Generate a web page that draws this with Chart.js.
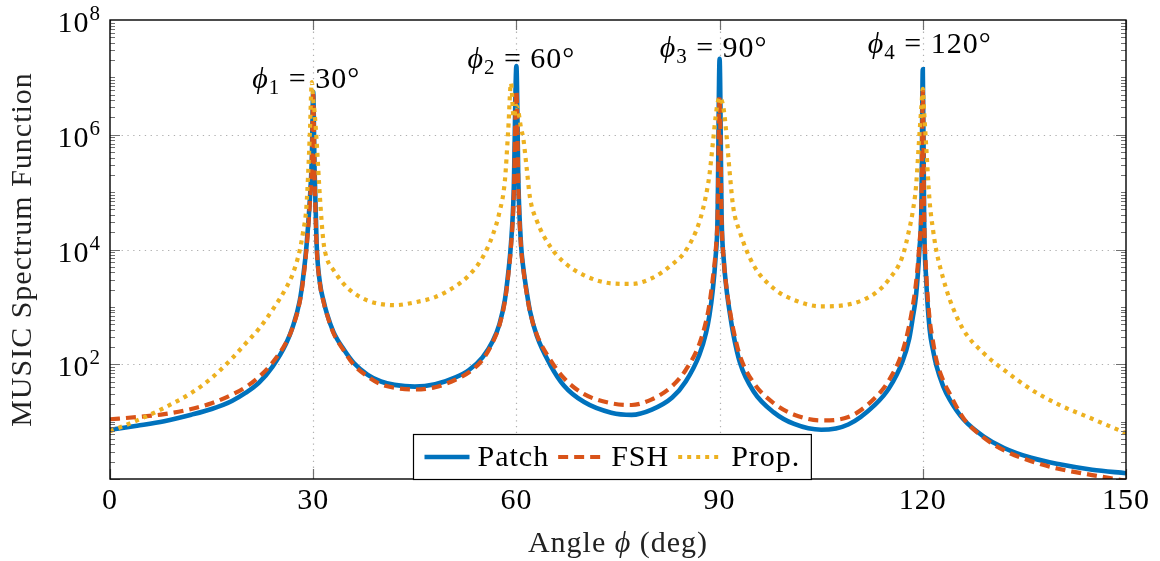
<!DOCTYPE html>
<html>
<head>
<meta charset="utf-8">
<script src="https://cdn.jsdelivr.net/npm/chart.js@4.4.1/dist/chart.umd.min.js"></script>
<style>
  html, body { margin: 0; padding: 0; background: #fff; }
  #wrap { width: 1160px; height: 561px; }
</style>
</head>
<body>
<div id="wrap"><canvas id="music"></canvas></div>
<script>
// sample angles (deg), denser around the four sources
const ANGLES = [
    0, 4, 8, 12, 15, 18, 20, 22, 24, 26, 27, 28, 28.5, 29, 29.5, 29.8,
    30, 30.2, 30.5, 31, 31.5, 32, 33, 34.5, 36, 38, 40, 42, 45, 48, 51, 53,
    55, 56.5, 57.5, 58.3, 58.8, 59.2, 59.6, 60, 60.3, 60.7, 61, 61.5, 62, 63, 65, 67,
    70, 74, 77, 80, 83, 85, 87, 88, 88.5, 89, 89.4, 89.7, 90, 90.3, 90.6, 91,
    91.5, 92, 93, 95, 98, 101, 105, 109, 113, 115, 117, 118, 118.5, 119, 119.5, 119.8,
    120, 120.2, 120.5, 121, 121.5, 122, 123, 124, 126, 129, 132, 136, 140, 145, 150
];

const PATCH = [
    7.2, 8.5, 10.2, 13.2, 16.6, 22.9, 31.6, 47.9, 91, 229, 457, 1260, 3160, 1.12e4, 7.2e4, 4.0e5,
    5.6e6, 2.5e5, 1.3e4, 2570, 1320, 776, 363, 182, 105, 66, 50, 43.7, 40.7, 44.7, 58.9, 79.4,
    132, 251, 501, 1320, 3980, 1.26e4, 1.0e5, 1.58e7, 1.4e5, 1.15e4, 5010, 1905, 851, 316, 97.7, 42.7,
    21.9, 14.3, 13.1, 16.2, 26.3, 50.1, 145, 355, 708, 2000, 7080, 3.7e4, 2.1e7, 3.6e4, 6900, 2140,
    794, 347, 107, 33.9, 14.5, 9.1, 7.2, 8.9, 20, 38, 112, 282, 631, 1580, 1.0e4, 6.3e4,
    1.38e7, 3.2e4, 3000, 417, 178, 95.5, 41.7, 24, 11, 5.5, 3.47, 2.34, 1.82, 1.45, 1.26
];

const FSH = [
    11, 12, 13.5, 16.6, 20.9, 29.5, 39.8, 60.3, 107, 240, 447, 1200, 2820, 1.0e4, 6.3e4, 3.2e5,
    5.0e6, 2.2e5, 1.2e4, 2510, 1260, 759, 347, 174, 97.7, 61.7, 44.7, 38.9, 36.3, 39.8, 53.7, 72.4,
    120, 240, 479, 1260, 3550, 1.12e4, 7.9e4, 5.9e6, 1.1e5, 1.05e4, 4790, 1780, 832, 331, 120, 57.5,
    30.2, 20.9, 19.5, 24.5, 41.7, 79.4, 224, 562, 1120, 3160, 8910, 4.0e4, 4.5e6, 3.3e4, 6900, 2240,
    891, 417, 141, 47.9, 20.9, 13.2, 10.5, 12, 26.3, 52.5, 166, 479, 1000, 2630, 1.26e4, 6.3e4,
    5.9e6, 4.0e4, 4000, 631, 251, 120, 52.5, 30.2, 11.5, 5.25, 3.16, 2.04, 1.51, 1.17, 0.93
];

const PROP = [
    6.8, 10.5, 17.4, 31.6, 57.5, 126, 229, 417, 891, 2140, 3800, 9550, 2.0e4, 5.6e4, 1.0e6, 8.3e6,
    4.0e6, 2.5e6, 7.9e5, 7.9e4, 1.41e4, 7080, 4370, 2510, 1740, 1290, 1120, 1070, 1200, 1480, 2290, 3550,
    7240, 1.78e4, 4.47e4, 1.58e5, 1.26e6, 7.9e6, 2.0e6, 3.2e6, 2.5e6, 1.26e6, 8.9e5, 2.75e5, 8.1e4, 3.2e4, 1.12e4, 6030,
    3550, 2570, 2510, 3160, 5500, 9550, 3.0e4, 8.9e4, 2.0e5, 7.1e5, 2.0e6, 3.55e6, 4.5e6, 4.0e6, 2.8e6, 1.05e6,
    2.14e5, 5.6e4, 2.0e4, 5370, 2090, 1320, 1020, 1100, 1740, 3020, 7590, 2.24e4, 4.47e4, 1.26e5, 1.0e6, 3.2e6,
    6.3e6, 2.5e6, 6.3e5, 7.1e4, 2.24e4, 9550, 3160, 1320, 398, 155, 79.4, 36.3, 20, 11.2, 6.3
];

const SERIES_NAMES = ['Patch', 'FSH', 'Prop.'];
const X_TICKS = [0, 30, 60, 90, 120, 150];
const Y_EXPONENTS = [2, 4, 6, 8];   // labelled decades, 10^n
const PEAK_ANGLES = [30, 60, 90, 120];

const COLORS = ['#0072BD', '#D95319', '#EDB120'];
const WIDTHS = [4.6, 4.2, 4.2];
const DASHES = [[], [10, 6], [4, 5]];
const FONT = '"Liberation Serif", "DejaVu Serif", serif';
const PHI = '\u03D5';

function toPoints(values) {
    return ANGLES.map((a, i) => ({ x: a, y: values[i] }));
}

// text with a raised or lowered small part, returns the width
function drawRich(ctx, parts, x, y, doDraw) {
    let cx = x;
    parts.forEach(p => {
        ctx.font = (p.italic ? 'italic ' : '') + p.size + 'px ' + FONT;
        if (doDraw) {
            ctx.fillText(p.text, cx, y + (p.dy || 0));
        }
        cx += ctx.measureText(p.text).width;
    });
    return cx - x;
}

const axesPlugin = {
    id: 'pgfAxes',
    beforeDatasetsDraw(chart) {
        const { ctx, chartArea: a, scales } = chart;
        ctx.save();
        ctx.strokeStyle = '#b0b0b0';
        ctx.lineWidth = 1.2;
        ctx.setLineDash([1.3, 4.5]);
        X_TICKS.forEach(t => {
            if (t === 0 || t === 150) return;
            const x = Math.round(scales.x.getPixelForValue(t)) + 0.5;
            ctx.beginPath();
            ctx.moveTo(x, a.top);
            ctx.lineTo(x, a.bottom);
            ctx.stroke();
        });
        Y_EXPONENTS.forEach(e => {
            if (e === 8) return;
            const y = Math.round(scales.y.getPixelForValue(Math.pow(10, e))) + 0.5;
            ctx.beginPath();
            ctx.moveTo(a.left, y);
            ctx.lineTo(a.right, y);
            ctx.stroke();
        });
        ctx.restore();
    },
    afterDraw(chart) {
        const { ctx, chartArea: a, scales } = chart;
        ctx.save();
        ctx.letterSpacing = '1px';

        // ticks
        ctx.strokeStyle = '#707070';
        ctx.lineWidth = 1.2;
        X_TICKS.forEach(t => {
            const x = Math.round(scales.x.getPixelForValue(t)) + 0.5;
            ctx.beginPath();
            ctx.moveTo(x, a.bottom); ctx.lineTo(x, a.bottom - 10);
            ctx.moveTo(x, a.top); ctx.lineTo(x, a.top + 10);
            ctx.stroke();
        });
        for (let e = 0; e < 8; e++) {
            for (let k = 1; k < 10; k++) {
                const v = k * Math.pow(10, e);
                const y = Math.round(scales.y.getPixelForValue(v)) + 0.5;
                const len = (k === 1 && e % 2 === 0) ? 10 : 5;
                ctx.beginPath();
                ctx.moveTo(a.left, y); ctx.lineTo(a.left + len, y);
                ctx.moveTo(a.right, y); ctx.lineTo(a.right - len, y);
                ctx.stroke();
            }
        }

        // frame
        ctx.strokeStyle = '#000';
        ctx.lineWidth = 1.4;
        ctx.strokeRect(a.left, a.top, a.right - a.left, a.bottom - a.top);

        // tick labels
        ctx.fillStyle = '#000';
        ctx.textBaseline = 'alphabetic';
        ctx.textAlign = 'left';
        X_TICKS.forEach(t => {
            ctx.font = '30px ' + FONT;
            const s = String(t);
            const w = ctx.measureText(s).width;
            ctx.fillText(s, scales.x.getPixelForValue(t) - w / 2, a.bottom + 30);
        });
        Y_EXPONENTS.forEach(e => {
            const parts = [
                { text: '10', size: 30 },
                { text: String(e), size: 21, dy: -12 }
            ];
            const w = drawRich(ctx, parts, 0, 0, false);
            const y = scales.y.getPixelForValue(Math.pow(10, e));
            drawRich(ctx, parts, a.left - 9 - w, y + 12, true);
        });

        // axis titles
        ctx.fillStyle = '#222';
        const xt = [
            { text: 'Angle ', size: 30 },
            { text: PHI, size: 30, italic: true },
            { text: ' (deg)', size: 30 }
        ];
        const xw = drawRich(ctx, xt, 0, 0, false);
        drawRich(ctx, xt, (a.left + a.right) / 2 - xw / 2, 552, true);

        ctx.save();
        ctx.translate(31, (a.top + a.bottom) / 2);
        ctx.rotate(-Math.PI / 2);
        const yt = [{ text: 'MUSIC Spectrum Function', size: 30 }];
        const yw = drawRich(ctx, yt, 0, 0, false);
        drawRich(ctx, yt, -yw / 2, 0, true);
        ctx.restore();

        // peak annotations
        ctx.fillStyle = '#000';
        const offX = [-7, 5, -6, 7];
        const baseY = [88, 68, 57, 53];
        PEAK_ANGLES.forEach((ang, i) => {
            const parts = [
                { text: PHI, size: 30, italic: true },
                { text: String(i + 1), size: 21, dy: 6 },
                { text: ' = ' + ang + '°', size: 30 }
            ];
            const w = drawRich(ctx, parts, 0, 0, false);
            const cx = scales.x.getPixelForValue(ang) + offX[i];
            drawRich(ctx, parts, cx - w / 2, baseY[i], true);
        });

        // legend
        ctx.font = '30px ' + FONT;
        const sample = 45, pad = 11, gap = 8, sep = 9;
        const widths = SERIES_NAMES.map(n => ctx.measureText(n).width);
        let total = pad * 2;
        widths.forEach((w, i) => { total += sample + gap + w + (i < widths.length - 1 ? sep : 0); });
        const bh = 45;
        const bx = Math.round(612 - total / 2) + 0.5;
        const by = Math.round(a.bottom - bh) + 0.5;
        ctx.fillStyle = '#fff';
        ctx.fillRect(bx, by, total, bh);
        ctx.strokeStyle = '#000';
        ctx.lineWidth = 1.2;
        ctx.setLineDash([]);
        ctx.strokeRect(bx, by, total, bh);
        let lx = bx + pad;
        const ly = by + bh / 2;
        SERIES_NAMES.forEach((n, i) => {
            ctx.strokeStyle = COLORS[i];
            ctx.lineWidth = WIDTHS[i];
            ctx.setLineDash(DASHES[i]);
            ctx.beginPath();
            ctx.moveTo(lx, ly);
            ctx.lineTo(lx + sample, ly);
            ctx.stroke();
            ctx.setLineDash([]);
            lx += sample + gap;
            ctx.fillStyle = '#000';
            ctx.fillText(n, lx, ly + 9);
            lx += widths[i] + sep;
        });

        ctx.restore();
    }
};

new Chart(document.getElementById('music'), {
    type: 'line',
    data: {
        datasets: [PATCH, FSH, PROP].map((vals, i) => ({
            label: SERIES_NAMES[i],
            data: toPoints(vals),
            borderColor: COLORS[i],
            borderWidth: WIDTHS[i],
            borderDash: DASHES[i],
            borderCapStyle: 'butt',
            pointRadius: 0,
            fill: false,
            cubicInterpolationMode: 'monotone',
            clip: 0,
            order: 3 - i
        }))
    },
    options: {
        responsive: true,
        maintainAspectRatio: false,
        animation: false,
        events: [],
        layout: { padding: { left: 0, right: 34, top: 20, bottom: 0 } },
        plugins: {
            legend: { display: false },
            tooltip: { enabled: false }
        },
        scales: {
            x: {
                type: 'linear',
                min: 0,
                max: 150,
                grid: { display: false },
                border: { display: false },
                ticks: { display: false },
                afterFit(scale) { scale.height = 82; }
            },
            y: {
                type: 'logarithmic',
                min: 1,
                max: 1e8,
                grid: { display: false },
                border: { display: false },
                ticks: { display: false },
                afterFit(scale) { scale.width = 110; }
            }
        }
    },
    plugins: [axesPlugin]
});
</script>
</body>
</html>
